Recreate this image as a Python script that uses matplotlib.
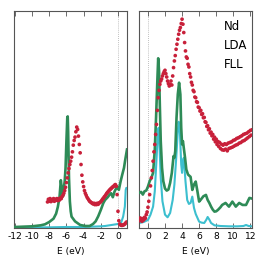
import matplotlib
matplotlib.use("Agg")
import matplotlib.pyplot as plt
import numpy as np

# ---------------- data (arbitrary DOS units) ----------------
left_green_E = [-12, -11, -10, -9, -8.5, -8, -7.5, -7.2, -7.0, -6.8, -6.65, -6.5, -6.4, -6.3, -6.2, -6.1, -6.0,
                -5.9, -5.85, -5.8, -5.7, -5.6, -5.5, -5.4, -5.0, -4.4, -3.8, -3.3, -2.9, -2.6, -2.3, -2.0,
                -1.7, -1.5, -1.2, -1.0, -0.8, -0.6, -0.4, -0.1, 0.1, 0.3, 0.5, 0.7, 0.85, 1.05]
left_green_y = [3, 4, 5, 8, 11, 18, 28, 43, 63, 93, 143, 110, 95, 120, 140, 180, 260,
                330, 334, 290, 150, 80, 50, 34, 20, 9, 6, 6, 12, 20, 35, 54,
                75, 84, 92, 99, 104, 92, 109, 124, 114, 139, 160, 180, 205, 235]

left_cyan_E = [-12, -8, -6, -4, -3, -2, -1.5, -1, -0.5, 0, 0.35, 0.6, 0.8, 0.9, 0.97, 1.05]
left_cyan_y = [2, 2, 3, 3, 4, 5, 6, 8, 10, 12, 15, 34, 64, 114, 120, 120]

# experimental points, sampled every 0.1 eV from -8.2 to 1.0 eV
left_red_y = [78, 86, 80, 88, 79, 85, 82, 88, 80, 86,
              83, 88, 82, 87, 84, 90, 88, 94, 98, 104,
              112, 122, 136, 150, 165, 178, 190, 200, 212, 228,
              248, 262, 272, 288, 302, 295, 275, 250, 225, 190,
              158, 138, 124, 112, 104, 98, 92, 88, 84, 80,
              78, 76, 74, 72, 74, 70, 73, 70, 74, 71,
              75, 76, 79, 82, 86, 89, 93, 96, 100, 104,
              107, 110, 113, 116, 118, 121, 123, 125, 128, 130,
              125, 100, 50, 22, 12, 9, 8, 8, 9, 10,
              12, 15, 18]
left_red_E = np.round(np.linspace(-8.2, 1.0, len(left_red_y)), 2)

right_green_E = [-1.05, -0.8, -0.6, -0.4, -0.2, 0, 0.2, 0.4, 0.6, 0.8, 0.95, 1.1, 1.2, 1.3, 1.4, 1.5, 1.65,
                 1.8, 2.0, 2.2, 2.4, 2.6, 2.8, 3.0, 3.1, 3.2, 3.35, 3.5, 3.65, 3.8, 3.9, 4.0, 4.1, 4.2,
                 4.35, 4.5, 4.7, 5.0, 5.2, 5.4, 5.6, 5.8, 6.0, 6.2, 6.5, 6.8, 7.0, 7.2, 7.4, 7.6, 7.8,
                 8.0, 8.2, 8.5, 8.7, 9.1, 9.5, 9.9, 10.3, 10.7, 11.1, 11.5, 11.9, 12.2]
right_green_y = [105, 108, 100, 110, 112, 124, 140, 150, 165, 234, 330, 440, 508, 470, 360, 260, 180,
                 140, 118, 112, 115, 135, 165, 215, 210, 230, 330, 400, 435, 400, 300, 250, 260, 240,
                 210, 175, 160, 153, 114, 130, 139, 110, 79, 85, 95, 99, 84, 75, 64, 55, 49,
                 50, 54, 62, 69, 75, 64, 79, 64, 75, 69, 69, 90, 88]

right_cyan_E = [-1.05, -0.5, 0, 0.3, 0.6, 0.8, 1.0, 1.15, 1.25, 1.35, 1.5, 1.7, 2.0, 2.3, 2.6, 2.9, 3.1,
                3.3, 3.5, 3.6, 3.75, 3.9, 4.0, 4.1, 4.2, 4.4, 4.6, 4.8, 5.0, 5.2, 5.4, 5.6, 6.0, 6.3,
                6.6, 6.85, 7.0, 7.2, 7.4, 7.8, 8.5, 9.5, 10.5, 11.2, 11.5, 11.8, 12.2]
right_cyan_y = [15, 18, 24, 40, 64, 110, 204, 280, 300, 250, 150, 80, 40, 32, 45, 84, 130,
                204, 290, 318, 285, 190, 165, 200, 210, 140, 84, 72, 75, 94, 60, 42, 19, 16,
                15, 25, 33, 25, 15, 8, 6, 5, 5, 6, 9, 6, 5]

# experimental points, sampled every 0.1 eV from -1.0 to 12.2 eV
right_red_y = [22, 30, 25, 20, 28, 24, 32, 29, 40, 48,
               62, 80, 100, 126, 150, 172, 200, 228, 250, 280,
               310, 352, 390, 412, 430, 440, 446, 455, 462, 468,
               472, 462, 452, 440, 432, 425, 430, 440, 428, 455,
               480, 500, 516, 535, 550, 565, 580, 592, 600, 612,
               625, 610, 585, 555, 530, 512, 508, 490, 482, 462,
               452, 436, 428, 412, 408, 392, 390, 378, 376, 362,
               360, 350, 352, 340, 342, 330, 331, 318, 316, 304,
               306, 294, 297, 284, 287, 276, 280, 266, 272, 258,
               266, 250, 259, 244, 256, 238, 251, 234, 248, 233,
               252, 236, 250, 231, 254, 238, 256, 240, 258, 242,
               262, 245, 264, 248, 268, 250, 270, 254, 273, 256,
               276, 260, 280, 262, 282, 266, 284, 270, 288, 274,
               292, 278, 294]
right_red_E = np.round(np.linspace(-1.0, 12.2, len(right_red_y)), 2)

label_lines = ["Nd", "LDA", "FLL"]
left_ticks = [-12, -10, -8, -6, -4, -2, 0]
right_ticks = [0, 2, 4, 6, 8, 10, 12]

# ---------------- styling ----------------
GREEN = "#2e8b57"
CYAN = "#3cbfcf"
RED = "#c8203a"
SPINE = "#555555"

plt.rcParams['font.family'] = ['DejaVu Sans']
fig = plt.figure(figsize=(2.66, 2.66), dpi=100)
axL = fig.add_axes([14/266, 38/266, 113/266, 216.5/266])
axR = fig.add_axes([139/266, 38/266, 113/266, 216.5/266])

def style(ax, xlim, ticks):
    ax.set_xlim(*xlim)
    ax.set_ylim(0, 648)
    ax.set_xticks(ticks)
    ax.set_xticklabels([str(t) for t in ticks], fontsize=6.6)
    ax.set_yticks([])
    ax.tick_params(axis='x', direction='in', length=3.5, width=0.6, color=SPINE,
                   top=True, bottom=True, pad=3)
    for s in ax.spines.values():
        s.set_color(SPINE)
        s.set_linewidth(0.8)
    ax.set_xlabel("E (eV)", fontsize=6.6, labelpad=4)
    ax.axvline(0, color="#aaaaaa", lw=0.6, ls=(0, (1, 1.5)), zorder=0)

style(axL, (-12.1, 1.05), left_ticks)
style(axR, (-1.05, 12.2), right_ticks)

axL.plot(left_cyan_E, left_cyan_y, color=CYAN, lw=1.5, zorder=2)
axL.plot(left_green_E, left_green_y, color=GREEN, lw=1.9, zorder=3)
axL.scatter(left_red_E, left_red_y, s=7, color=RED, edgecolors='none', zorder=4)

axR.plot(right_cyan_E, right_cyan_y, color=CYAN, lw=1.5, zorder=2)
axR.plot(right_green_E, right_green_y, color=GREEN, lw=1.9, zorder=3)
axR.scatter(right_red_E, right_red_y, s=7, color=RED, edgecolors='none', zorder=4)

for i, t in enumerate(label_lines):
    axR.text(0.75, 0.93 - i * 0.087, t, transform=axR.transAxes, fontsize=8.5,
             ha='left', va='center')

fig.savefig("out.png", dpi=100)
